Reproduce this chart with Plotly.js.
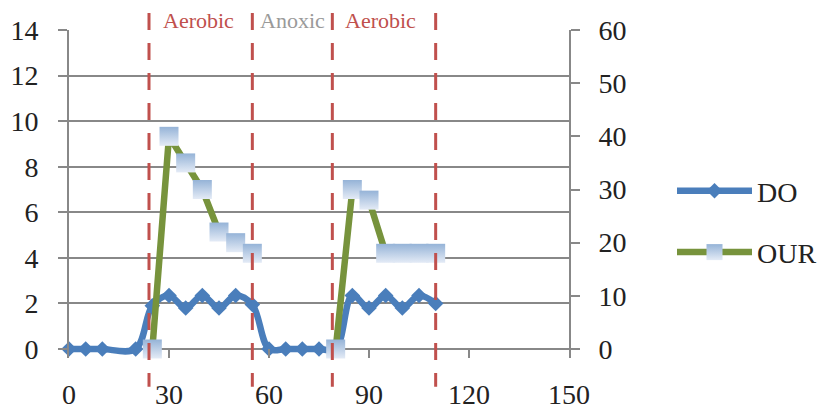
<!DOCTYPE html>
<html><head><meta charset="utf-8">
<script src="https://cdn.plot.ly/plotly-3.0.1.min.js"></script>
<style>html,body{margin:0;padding:0;background:#fff}#chart{width:825px;height:411px}</style>
</head><body><div id="chart"></div>
<script>
// Time (x) and dissolved oxygen (left axis)
const doTime = [0,5,10,20,25,30,35,40,45,50,55,60,65,70,75,80,85,90,95,100,105,110];
const doValues = [0,0,0,0,1.9,2.35,1.8,2.35,1.8,2.35,1.95,0,0,0,0,0,2.35,1.8,2.35,1.8,2.35,2.0];
// Oxygen uptake rate (right axis); null breaks the line during anoxic phase
const ourTime = [25,30,35,40,45,50,55,60,80,85,90,95,100,105,110];
const ourValues = [0,40,35,30,22,20,18,null,0,30,28,18,18,18,18];
// Phase boundaries and labels
const phaseBounds = [24,55,79,110];
const phaseNames = ['Aerobic','Anoxic','Aerobic'];
const phaseLabelX = [38.7,67,93.3];
const phaseColors = ['#C0504D','#9A9A9A','#C0504D'];
const xTicks = [0,30,60,90,120,150];
const yTicks = [0,2,4,6,8,10,12,14];
const y2Ticks = [0,10,20,30,40,50,60];

const FONT = 'Liberation Serif, Times New Roman, serif';
const GRID = '#888888';

const traces = [
  {x: doTime, y: doValues, name: 'DO', type: 'scatter', mode: 'lines+markers',
   line: {color: '#4A7EBB', width: 6.5, shape: 'spline', smoothing: 1},
   marker: {symbol: 'diamond', size: 12, color: '#4A7EBB', line: {width: 0}},
   cliponaxis: false, legendgroup: 'a'},
  {x: ourTime, y: ourValues, name: 'OUR', type: 'scatter', mode: 'lines+markers', yaxis: 'y2',
   connectgaps: false,
   line: {color: '#77933C', width: 6.5},
   marker: {symbol: 'square', size: 19, color: '#95B3D7', gradient: {type: 'vertical', color: '#E4EBF6'}, line: {width: 0}},
   cliponaxis: false, legendgroup: 'b'}
];

const shapes = phaseBounds.map(b => ({
  type: 'line', xref: 'x', yref: 'paper', x0: b, x1: b, y0: 1.052, y1: -0.088,
  line: {color: '#C0504D', width: 3, dash: '17px,13px'}, layer: 'above'
}));

const annotations = phaseNames.map((n, i) => ({
  text: n, x: phaseLabelX[i], xref: 'x', y: 1.030, yref: 'paper', showarrow: false,
  xanchor: 'center', yanchor: 'middle', font: {family: FONT, size: 22, color: phaseColors[i]}
}));

const layout = {
  width: 825, height: 411,
  margin: {l: 69, r: 256, t: 30, b: 53},
  paper_bgcolor: '#fff', plot_bgcolor: '#fff',
  font: {family: FONT, size: 28, color: '#222'},
  showlegend: true,
  legend: {x: 672/825, xref: 'container', y: (411-166)/411, yref: 'container', yanchor: 'top', xanchor: 'left',
           font: {family: FONT, size: 28, color: '#222'}, traceorder: 'grouped', tracegroupgap: 22,
           itemwidth: 75, bgcolor: 'rgba(0,0,0,0)'},
  xaxis: {range: [0,150], tickvals: xTicks, ticks: 'inside', ticklen: 9, tickwidth: 2, tickcolor: GRID,
          showline: false, showgrid: false, zeroline: false, ticklabelstandoff: 17,
          tickfont: {family: FONT, size: 28, color: '#222'}, fixedrange: true},
  yaxis: {range: [-0.395,14], tickvals: yTicks, ticks: 'outside', ticklen: 9, tickwidth: 2, tickcolor: GRID,
          showgrid: true, gridcolor: GRID, gridwidth: 2, zeroline: true, zerolinecolor: GRID, zerolinewidth: 2,
          showline: true, linecolor: GRID, linewidth: 2, ticklabelstandoff: 14,
          tickfont: {family: FONT, size: 28, color: '#222'}, fixedrange: true},
  yaxis2: {range: [-1.693,60], tickvals: y2Ticks, overlaying: 'y', side: 'right', ticks: 'outside', ticklen: 9,
           tickwidth: 2, tickcolor: GRID, showgrid: false, zeroline: false, showline: true, linecolor: GRID,
           linewidth: 2, ticklabelstandoff: 13, tickfont: {family: FONT, size: 28, color: '#222'}, fixedrange: true},
  shapes: shapes,
  annotations: annotations
};

Plotly.newPlot('chart', traces, layout, {displayModeBar: false, staticPlot: true});
</script>
</body></html>
